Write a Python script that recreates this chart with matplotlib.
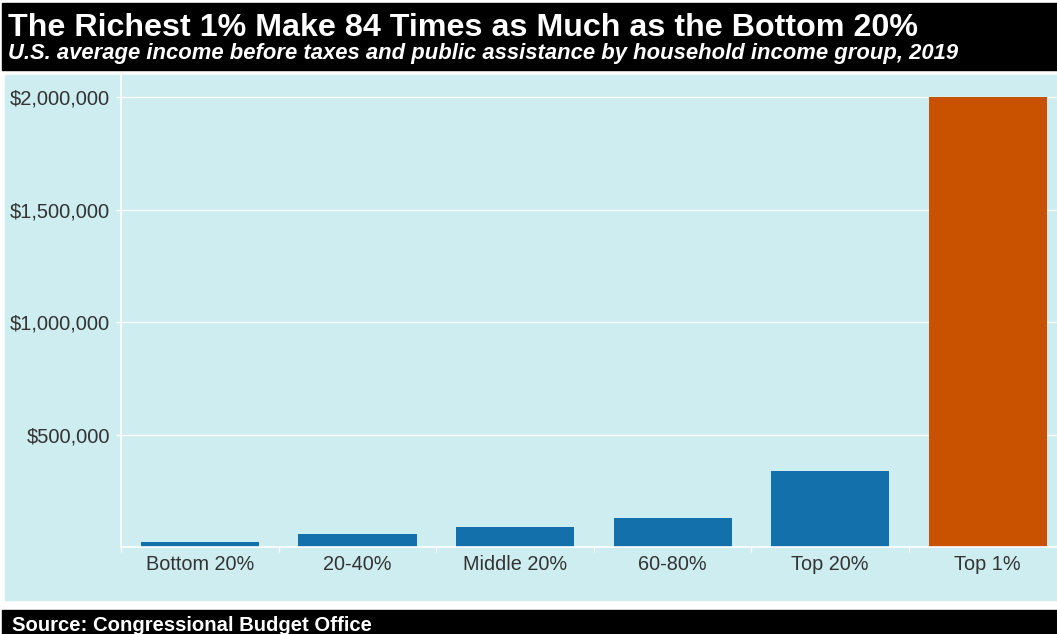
import matplotlib.pyplot as plt
from matplotlib.patches import Rectangle
from matplotlib.ticker import FuncFormatter, FixedLocator

# Average income before taxes and transfers, 2019
groups = ["Bottom 20%", "20-40%", "Middle 20%", "60-80%", "Top 20%", "Top 1%"]
incomes = [23800, 58000, 89000, 129000, 339000, 2000000]
bar_colors = ["#1470aa", "#1470aa", "#1470aa", "#1470aa", "#1470aa", "#c85200"]
y_ticks = [500000, 1000000, 1500000, 2000000]

W, H = 1057, 634
fig = plt.figure(figsize=(W / 100, H / 100), dpi=100)
plt.rcParams['font.family'] = ['Liberation Sans', 'DejaVu Sans']


def box(x0, y0, x1, y1, color):
    # pixel coords, y measured from the top
    fig.patches.append(Rectangle((x0 / W, 1 - y1 / H), (x1 - x0) / W, (y1 - y0) / H,
                                 transform=fig.transFigure, color=color, zorder=-10))


panel = "#cdedf0"
box(2, 3, W, 70, "black")
box(5, 75, W, 600, panel)
box(2, 610, W, H, "black")

fig.text(8 / W, 1 - 36 / H, "The Richest 1% Make 84 Times as Much as the Bottom 20%",
         color="white", fontsize=23.2, fontweight="bold", va="baseline")
fig.text(8 / W, 1 - 59 / H, "U.S. average income before taxes and public assistance by household income group, 2019",
         color="white", fontsize=15.8, fontweight="bold", fontstyle="italic", va="baseline")
fig.text(12 / W, 1 - 631 / H, "Source: Congressional Budget Office",
         color="white", fontsize=14.6, fontweight="bold", va="baseline")

# plot area
ax = fig.add_axes([121 / W, 1 - 547 / H, (W - 121) / W, (547 - 75) / H])
ax.set_facecolor(panel)
x = range(len(groups))
ax.bar(x, incomes, width=0.75, color=bar_colors, zorder=2)

step = 157.6
ax.set_xlim(-0.5, -0.5 + (W - 121) / step)
ax.set_ylim(0, 2100000)

ax.set_yticks(y_ticks)
ax.yaxis.set_major_formatter(FuncFormatter(lambda v, p: f"${v:,.0f}"))
ax.grid(axis="y", color="white", linewidth=0.9, zorder=1)

# ticks sit between the bars, labels under the bars
ax.xaxis.set_major_locator(FixedLocator([i - 0.5 for i in range(len(groups) + 1)]))
ax.xaxis.set_major_formatter(FuncFormatter(lambda v, p: ""))
ax.xaxis.set_minor_locator(FixedLocator(list(x)))
ax.set_xticklabels(groups, minor=True)

ax.tick_params(axis="x", which="major", length=3.6, width=1, color="white")
ax.tick_params(axis="x", which="minor", length=0, pad=6, labelsize=14.3, labelcolor="#333333")
ax.tick_params(axis="y", length=3.6, width=1, color="white", pad=4.3, labelsize=14.5, labelcolor="#333333")

for side in ["top", "right"]:
    ax.spines[side].set_visible(False)
for side in ["left", "bottom"]:
    ax.spines[side].set_color("white")
    ax.spines[side].set_linewidth(1.2)

fig.savefig("out.png", dpi=100)
